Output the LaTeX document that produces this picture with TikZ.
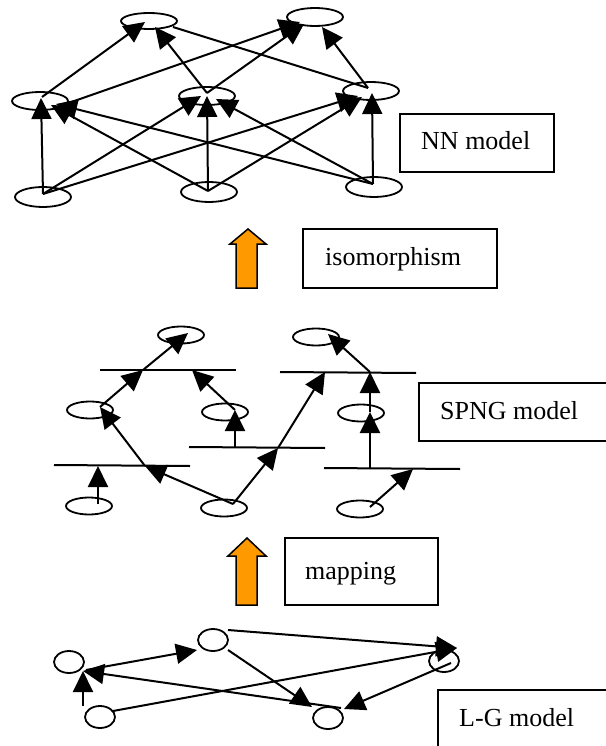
\documentclass[tikz,border=0pt]{standalone}
\usepackage{fontspec}
\setmainfont{Liberation Serif}
\usetikzlibrary{arrows.meta,shapes.geometric}
\definecolor{orng}{RGB}{255,153,0}
\begin{document}
\begin{tikzpicture}[x=1pt,y=-1pt,
  nnell/.style={draw,ellipse,line width=1.8pt,inner sep=0pt,outer sep=0pt,minimum width=56pt,minimum height=18pt},
  spell/.style={draw,ellipse,line width=1.8pt,inner sep=0pt,outer sep=0pt,minimum width=46pt,minimum height=17pt},
  lgell/.style={draw,ellipse,line width=1.8pt,inner sep=0pt,outer sep=0pt,minimum width=30pt,minimum height=22pt},
  arr/.style={line width=2pt,-{Triangle[length=21pt,width=20pt]}},
  plain/.style={line width=2pt},
  boxline/.style={line width=1.5pt},
  txt/.style={inner sep=0pt,anchor=base west,font=\fontsize{26}{30}\selectfont},
  bigarrow/.style={draw,line width=1.5pt,fill=orng,line join=miter}
]
\useasboundingbox (0,0) rectangle (605,746);

% ---------------- NN model ----------------
\node[nnell,minimum height=16pt] (T1) at (149,21) {};
\node[nnell] (T2) at (315,17) {};
\node[nnell] (M1) at (40,101) {};
\node[nnell] (M2) at (207,96) {};
\node[nnell] (M3) at (371,91) {};
\node[nnell,minimum height=20pt] (B1) at (43,197) {};
\node[nnell,minimum height=20pt] (B2) at (209,192) {};
\node[nnell,minimum height=20pt] (B3) at (374,187) {};

\coordinate (b1s) at (43,194);
\coordinate (b2s) at (208,191);
\coordinate (b3s) at (373,184);
\coordinate (m1a) at (41,98);
\coordinate (m1b) at (51,105);
\coordinate (m1c) at (56,104);
\coordinate (m2a) at (201,96);
\coordinate (m2b) at (207,96);
\coordinate (m2c) at (216,99);
\coordinate (m3a) at (358,96);
\coordinate (m3b) at (362,97);
\coordinate (m3c) at (372,93);
\coordinate (m1s) at (42,97);
\coordinate (m1t) at (60,106);
\coordinate (m2s) at (207,93);
\coordinate (m3s) at (368,88);
\coordinate (t1a) at (145,22);
\coordinate (t1b) at (155,27);
\coordinate (t1e) at (173,27);
\coordinate (t2a) at (300,22);
\coordinate (t2b) at (304,24);
\coordinate (t2c) at (322,27);

\draw[arr] (b1s) -- (m1a);
\draw[arr] (b1s) -- (m2a);
\draw[arr] (b1s) -- (m3a);
\draw[arr] (b2s) -- (m1b);
\draw[arr] (b2s) -- (m2b);
\draw[arr] (b2s) -- (m3b);
\draw[arr] (b3s) -- (m1c);
\draw[arr] (b3s) -- (m2c);
\draw[arr] (b3s) -- (m3c);
\draw[arr] (m1s) -- (t1a);
\draw[arr] (m1t) -- (t2a);
\draw[arr] (m2s) -- (t1b);
\draw[arr] (m2s) -- (t2b);
\draw[arr] (m3s) -- (t2c);
\draw[plain] (t1e) -- (m3s);

\draw[boxline] (400,114) rectangle (554,172) node[pos=0,inner sep=0pt] (nnbox) {};
\node[txt] (nntxt) at (421,150) {NN model};

% ---------------- isomorphism ----------------
\draw[bigarrow] (248,229) -- (266,244) -- (257,244) -- (257,288) -- (236,288) -- (236,244) -- (230,244) -- cycle;
\coordinate (isoarrow) at (248,258);
\draw[boxline] (303,229) rectangle (497,288);
\node[txt] (isotxt) at (325,265) {isomorphism};

% ---------------- SPNG model ----------------
\node[spell] (S1) at (181,335) {};
\node[spell] (S2) at (316,337) {};
\node[spell] (S3) at (90,410) {};
\node[spell] (S4) at (225,412) {};
\node[spell] (S5) at (361,413) {};
\node[spell] (S6) at (89,506) {};
\node[spell] (S7) at (224,508) {};
\node[spell] (S8) at (360,509) {};

% bars
\coordinate (la1) at (100,370); \coordinate (la2) at (236,370);
\coordinate (lb1) at (280,372); \coordinate (lb2) at (416,373);
\coordinate (lc1) at (189,447); \coordinate (lc2) at (325,448);
\coordinate (ld1) at (54,465);  \coordinate (ld2) at (190,466);
\coordinate (le1) at (324,468); \coordinate (le2) at (460,469);
\draw[plain] (la1) -- (la2);
\draw[plain] (lb1) -- (lb2);
\draw[plain] (lc1) -- (lc2);
\draw[plain] (ld1) -- (ld2);
\draw[plain] (le1) -- (le2);

% junction points
\coordinate (jd1) at (98,466);
\coordinate (jd2) at (145,466);
\coordinate (ja1) at (143,370);
\coordinate (ja2) at (192,370);
\coordinate (jc1) at (235,447);
\coordinate (jc2) at (278,448);
\coordinate (jb1) at (325,372);
\coordinate (jb2) at (370,372);
\coordinate (je1) at (370,468);
\coordinate (je2) at (413,469);
\coordinate (s6s) at (98,504);
\coordinate (s7s) at (233,504);
\coordinate (s3p) at (100,407);
\coordinate (s4s) at (235,410);
\coordinate (s5s) at (370,412);
\coordinate (s8s) at (370,507);
\coordinate (s1t) at (188,333);
\coordinate (s2t) at (328,334);

\draw[arr] (s6s) -- (jd1);
\draw[arr] (s7s) -- (jd2);
\draw[arr] (jd2) -- (s3p);
\draw[arr] (s3p) -- (ja1);
\draw[arr] (ja1) -- (s1t);
\draw[arr] (s4s) -- (ja2);
\draw[arr] (jc1) -- (s4s);
\draw[arr] (s7s) -- (jc2);
\draw[arr] (jc2) -- (jb1);
\draw[arr] (jb2) -- (s2t);
\draw[arr] (s5s) -- (jb2);
\draw[arr] (je1) -- (s5s);
\draw[arr] (s8s) -- (je2);

\draw[boxline] (607,383) -- (419,383) -- (419,441) -- (607,441);
\node[txt] (spngtxt) at (440,419) {SPNG model};

% ---------------- mapping ----------------
\draw[bigarrow] (247,538) -- (266,556) -- (257,556) -- (257,605) -- (236,605) -- (236,556) -- (228,556) -- cycle;
\coordinate (maparrow) at (247,575);
\draw[boxline] (285,538) rectangle (438,605);
\node[txt] (maptxt) at (305,579) {mapping};

% ---------------- L-G model ----------------
\node[lgell] (N1) at (69,662) {};
\node[lgell] (N2) at (213,640) {};
\node[lgell] (N3) at (444,661) {};
\node[lgell] (N4) at (100,717) {};
\node[lgell] (N5) at (328,718) {};

\coordinate (n1p) at (83,671);
\coordinate (n1q) at (86,670);
\coordinate (n2t) at (197,650);
\coordinate (n2s) at (228,630);
\coordinate (n2d) at (228,650);
\coordinate (n3t) at (457,648);
\coordinate (n3s) at (451,663);
\coordinate (n4s) at (83,706);
\coordinate (n4r) at (113,711);
\coordinate (n5s) at (341,708);
\coordinate (n5a) at (312,707);
\coordinate (n5b) at (344,709);

\draw[arr] (n4s) -- (n1p);
\draw[arr] (n1q) -- (n2t);
\draw[arr] (n5s) -- (n1p);
\draw[arr] (n2s) -- (n3t);
\draw[arr] (n4r) -- (n3t);
\draw[arr] (n2d) -- (n5a);
\draw[arr] (n3s) -- (n5b);

\draw[boxline] (607,690) -- (438,690) -- (438,748);
\node[txt] (lgtxt) at (459,726) {L-G model};
\end{tikzpicture}
\end{document}
